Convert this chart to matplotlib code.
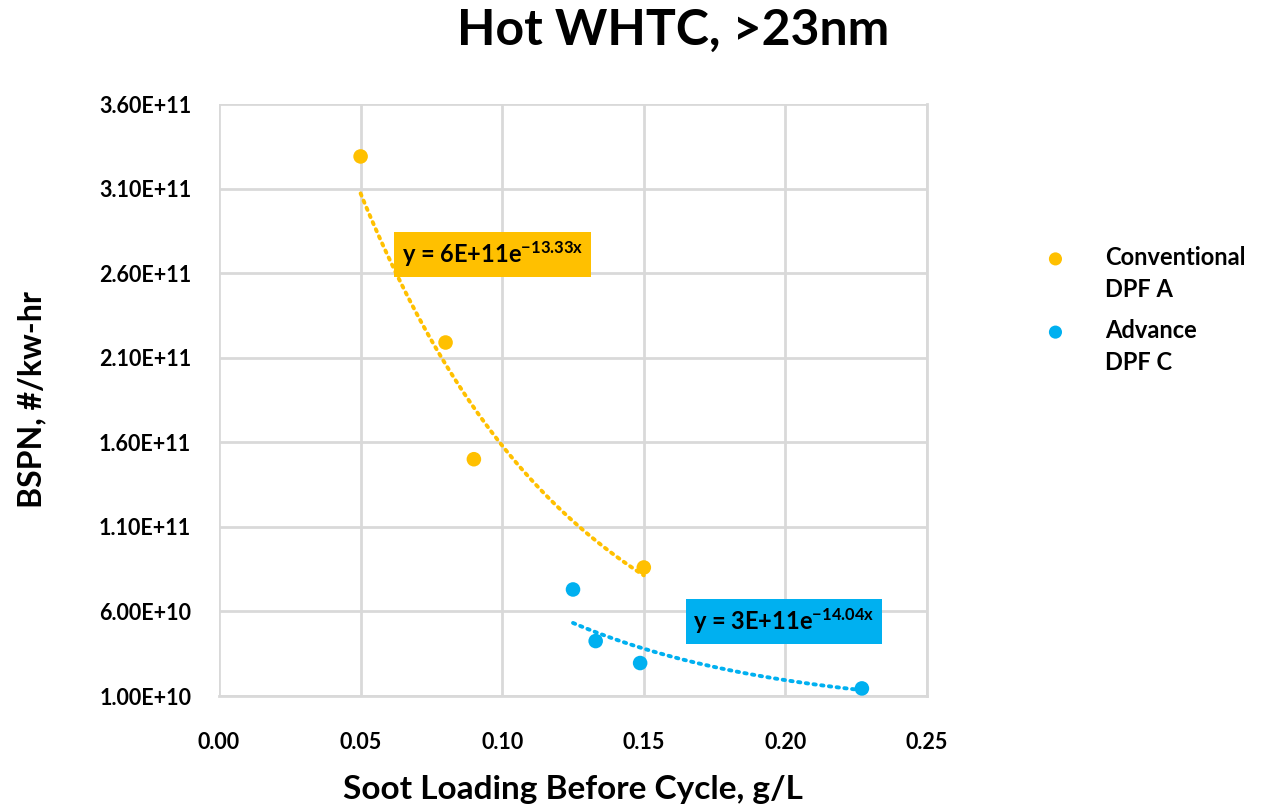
import matplotlib
matplotlib.use("Agg")
import matplotlib.pyplot as plt
import numpy as np

# data
conv_x = [0.05, 0.08, 0.09, 0.15]
conv_y = [3.29e11, 2.19e11, 1.50e11, 8.6e10]
adv_x = [0.125, 0.133, 0.1487, 0.227]
adv_y = [7.3e10, 4.25e10, 2.95e10, 1.45e10]
labels = ["Conventional\nDPF A", "Advance\nDPF C"]
x_ticks = [0.0, 0.05, 0.10, 0.15, 0.20, 0.25]
y_ticks = [1.0e10, 6.0e10, 1.1e11, 1.6e11, 2.1e11, 2.6e11, 3.1e11, 3.6e11]

orange = "#FFC000"
blue = "#00B0F0"

plt.rcParams["font.family"] = ["Lato", "DejaVu Sans"]
plt.rcParams["font.weight"] = "bold"
plt.rcParams["mathtext.fontset"] = "custom"
plt.rcParams["mathtext.rm"] = "Lato:bold"
plt.rcParams["mathtext.it"] = "Lato:bold"
plt.rcParams["mathtext.bf"] = "Lato:bold"


def exp_fit(x, y):
    # excel-style exponential trendline: fit ln(y) linearly
    b, ln_a = np.polyfit(np.array(x), np.log(np.array(y)), 1)
    xs = np.linspace(min(x), max(x), 100)
    return xs, np.exp(ln_a) * np.exp(b * xs)


fig = plt.figure(figsize=(12.68, 8.10), dpi=100)
ax = fig.add_axes([0.1727, 0.1407, 0.5584, 0.7309])

for xs, ys, col, lab in [(conv_x, conv_y, orange, labels[0]), (adv_x, adv_y, blue, labels[1])]:
    ax.scatter(xs, ys, s=110, color=col, zorder=3, label=lab, edgecolors="none")
    fx, fy = exp_fit(xs, ys)
    ax.plot(fx, fy, linestyle=(0, (0.6, 1.4)), color=col, lw=2.8, zorder=2,
            dash_capstyle="round")

ax.set_xlim(0, 0.25)
ax.set_ylim(1.0e10, 3.6e11)
ax.set_xticks(x_ticks)
ax.set_yticks(y_ticks)
ax.set_xticklabels([f"{v:.2f}" for v in x_ticks], fontsize=15.5, fontweight="bold")
ax.set_yticklabels([f"{v:.2E}" for v in y_ticks], fontsize=15.5, fontweight="bold")
ax.tick_params(axis="x", length=0, pad=26)
ax.tick_params(axis="y", length=0, pad=20)
ax.grid(True, color="#d9d9d9", lw=2)
ax.set_axisbelow(True)
for side in ["left", "top"]:
    ax.spines[side].set_visible(False)
for side in ["right", "bottom"]:
    ax.spines[side].set_color("#d9d9d9")
    ax.spines[side].set_linewidth(2)

ax.set_xlabel("Soot Loading Before Cycle, g/L", fontsize=24, fontweight="bold", labelpad=16)
ax.set_ylabel("BSPN, #/kw-hr", fontsize=23, fontweight="bold", labelpad=38)

fig.text(0.531, 0.962, "Hot WHTC, >23nm", fontsize=36, fontweight="bold",
         ha="center", va="center")

ax.text(0.0645, 2.71e11, r"y = 6E+11e$^{\mathrm{-13.33x}}$", fontsize=17,
        fontweight="bold", va="center", ha="left",
        bbox=dict(boxstyle="square,pad=0.32", fc=orange, ec="none"))
ax.text(0.1675, 5.43e10, r"y = 3E+11e$^{\mathrm{-14.04x}}$", fontsize=17,
        fontweight="bold", va="center", ha="left",
        bbox=dict(boxstyle="square,pad=0.32", fc=blue, ec="none"))

leg = fig.legend(loc="upper left", bbox_to_anchor=(0.797, 0.723), frameon=False,
                 fontsize=17, handletextpad=1.1, labelspacing=0.75, markerscale=0.9,
                 scatteryoffsets=[1.45])
for t in leg.get_texts():
    t.set_fontweight("bold")
    t.set_linespacing(1.5)

fig.savefig("out.png", dpi=100)
